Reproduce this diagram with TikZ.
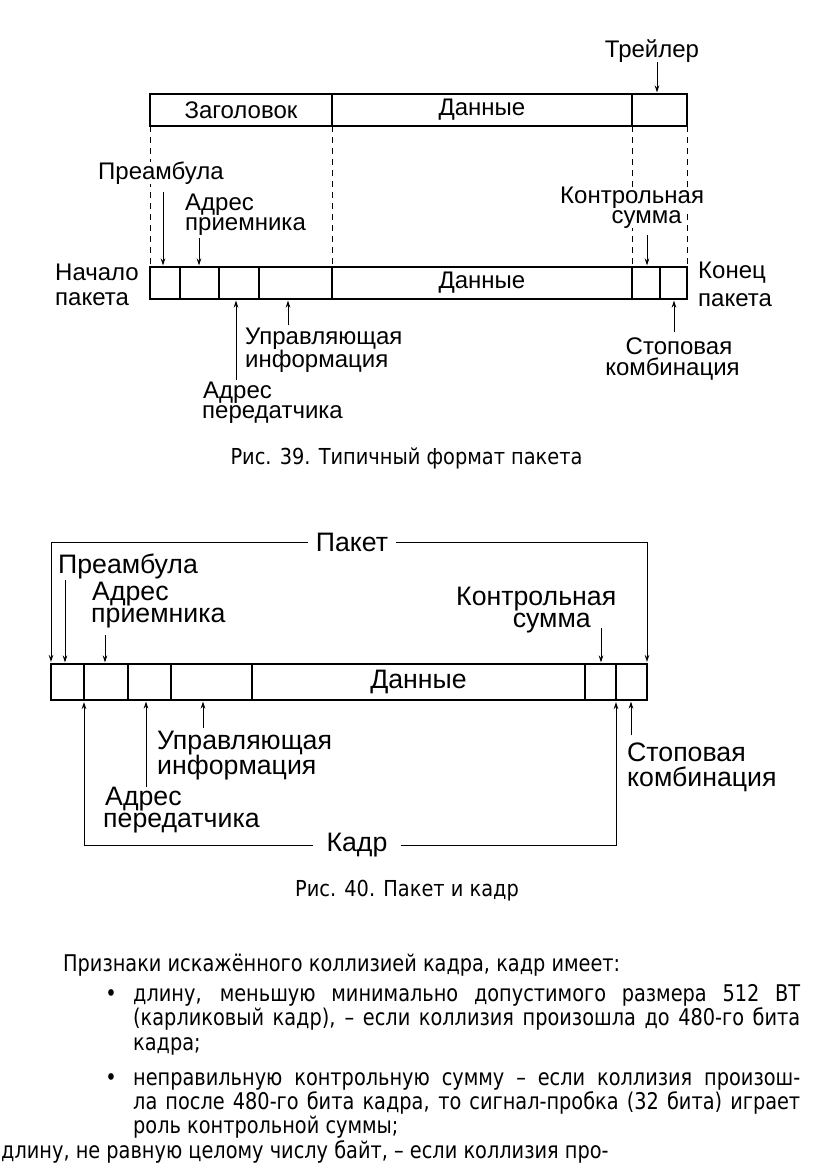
\documentclass[tikz,border=0pt]{standalone}
\usepackage{fontspec}
\setmainfont{Liberation Sans}
\newfontfamily\tahfont[FakeStretch=0.88]{DejaVu Sans}
\newfontfamily\bodyface[FakeStretch=0.84]{DejaVu Sans}
\usetikzlibrary{arrows.meta}
\newcommand\figAfont{\fontsize{24}{26}\selectfont}
\newcommand\figBfont{\fontsize{26.7}{28}\selectfont}
\newcommand\capfont{\tahfont\fontsize{22}{24}\selectfont}
\newcommand\bodyfont{\bodyface\fontsize{23}{25}\selectfont}
\begin{document}
\begin{tikzpicture}[x=1pt,y=-1pt,
  cell/.style={draw, line width=1.6pt, inner sep=0pt, outer sep=0pt, anchor=north west},
  lblA/.style={inner sep=0pt, font=\figAfont},
  lblB/.style={inner sep=0pt, font=\figBfont},
  mask/.style={fill=white},
  arr/.style={line width=0.9pt, -{Stealth[length=7pt,width=4.5pt]}, shorten >=1.5pt},
  brk/.style={line width=1pt, -{Stealth[length=7pt,width=4.5pt]}, shorten >=2pt},
  dsh/.style={line width=0.9pt, dash pattern=on 6pt off 5pt},
  captext/.style={inner sep=0pt, font=\capfont},
  body/.style={inner sep=0pt, font=\bodyfont, anchor=base west}]
\fill[white] (0,0) rectangle (816,1163);
\useasboundingbox (0,0) rectangle (816,1163);

% ---------- Fig. 39 ----------
\node[cell, minimum width=182pt, minimum height=32pt, font=\figAfont] (hdr) at (150,94) {Заголовок};
\node[cell, minimum width=300pt, minimum height=32pt, font=\figAfont] (dat) at (332,94) {Данные};
\node[cell, minimum width=55pt, minimum height=32pt] (trl) at (632,94) {};

\node[cell, minimum width=30pt, minimum height=32pt] (c1) at (150,267) {};
\node[cell, minimum width=39pt, minimum height=32pt] (c2) at (180,267) {};
\node[cell, minimum width=40pt, minimum height=32pt] (c3) at (219,267) {};
\node[cell, minimum width=73pt, minimum height=32pt] (c4) at (259,267) {};
\node[cell, minimum width=300pt, minimum height=32pt, font=\figAfont] (c5) at (332,267) {Данные};
\node[cell, minimum width=28pt, minimum height=32pt] (c6) at (632,267) {};
\node[cell, minimum width=27pt, minimum height=32pt] (c7) at (660,267) {};

\draw[dsh] (hdr.south west) -- (c1.north west);
\draw[dsh] (hdr.south east) -- (c4.north east);
\draw[dsh] (trl.south west) -- (c6.north west);
\draw[dsh] (trl.south east) -- (c7.north east);

\node[lblA] (trlL) at (652,51) {Трейлер};
\node[lblA, mask, anchor=west] (preL) at (98,173) {Преамбула};
\node[lblA, anchor=west] (rcv1) at (185,205) {Адрес};
\node[lblA, anchor=west] (rcv2) at (185,226.7) {приемника};
\node[lblA, anchor=west] (beg1) at (55,272.5) {Начало};
\node[lblA, anchor=west] (beg2) at (55,299) {пакета};
\node[lblA, anchor=west] (ctl1) at (245,339) {Управляющая};
\node[lblA, anchor=west] (ctl2) at (245,361) {информация};
\node[lblA, anchor=west] (snd1) at (203,393) {Адрес};
\node[lblA, anchor=west] (snd2) at (202,415) {передатчика};
\node[lblA, mask, anchor=west] (crc1) at (560,198) {Контрольная};
\node[lblA, mask, anchor=east] (crc2) at (682,219.5) {сумма};
\node[lblA, anchor=west] (end1) at (698,272.5) {Конец};
\node[lblA, anchor=west] (end2) at (698,300) {пакета};
\node[lblA] (stp1) at (679,346) {Стоповая};
\node[lblA] (stp2) at (672.5,369) {комбинация};

\coordinate (t1) at (657,62);
\coordinate (t2) at (163,192);
\coordinate (t3) at (199,238);
\coordinate (t4) at (236,380);
\coordinate (t5) at (288,325);
\coordinate (t6) at (647,235);
\coordinate (t7) at (674,332);
\draw[arr] (t1) -- (t1 |- trl.north);
\draw[arr] (t2) -- (t2 |- c1.north);
\draw[arr] (t3) -- (t3 |- c2.north);
\draw[arr] (t4) -- (t4 |- c3.south);
\draw[arr] (t5) -- (t5 |- c4.south);
\draw[arr] (t6) -- (t6 |- c6.north);
\draw[arr] (t7) -- (t7 |- c7.south);

\node[captext] (cap39) at (406.5,458) {Рис. 39. Типичный формат пакета};

% ---------- Fig. 40 ----------
\node[cell, minimum width=33pt, minimum height=36pt] (d1) at (51,664) {};
\node[cell, minimum width=44pt, minimum height=36pt] (d2) at (84,664) {};
\node[cell, minimum width=43pt, minimum height=36pt] (d3) at (128,664) {};
\node[cell, minimum width=81pt, minimum height=36pt] (d4) at (171,664) {};
\node[cell, minimum width=333pt, minimum height=36pt, font=\figBfont] (d5) at (252,664) {Данные};
\node[cell, minimum width=31pt, minimum height=36pt] (d6) at (585,664) {};
\node[cell, minimum width=31pt, minimum height=36pt] (d7) at (616,664) {};

\node[lblB, inner xsep=8pt] (pak) at (352,542) {Пакет};
\node[lblB, inner xsep=13pt] (kadr) at (357,845) {Кадр};
\draw[brk] (pak.west) -| (d1.north west);
\draw[brk] (pak.east) -| (d7.north east);
\draw[brk] (kadr.west) -| (d2.south west);
\draw[brk] (kadr.east) -| (d7.south west);

\node[lblB, anchor=west] (pre) at (58,566.7) {Преамбула};
\node[lblB, anchor=west] (r1) at (92,594) {Адрес};
\node[lblB, anchor=west] (r2) at (91,618) {приемника};
\node[lblB, anchor=west] (k1) at (456,599) {Контрольная};
\node[lblB, anchor=east] (k2) at (591,623.5) {сумма};
\node[lblB, anchor=west] (u1) at (157,743.3) {Управляющая};
\node[lblB, anchor=west] (u2) at (157,767.5) {информация};
\node[lblB, anchor=west] (s1) at (105,799) {Адрес};
\node[lblB, anchor=west] (s2) at (103,823) {передатчика};
\node[lblB, anchor=west] (st1) at (627,752.5) {Стоповая};
\node[lblB, anchor=west] (st2) at (627,779) {комбинация};

\coordinate (e1) at (65,580);
\coordinate (e2) at (105,635);
\coordinate (e3) at (601,628);
\coordinate (e4) at (146,787);
\coordinate (e5) at (203,728);
\coordinate (e6) at (631,735);
\draw[arr] (e1) -- (e1 |- d1.north);
\draw[arr] (e2) -- (e2 |- d2.north);
\draw[arr] (e3) -- (e3 |- d6.north);
\draw[arr] (e4) -- (e4 |- d3.south);
\draw[arr] (e5) -- (e5 |- d4.south);
\draw[arr] (e6) -- (e6 |- d7.south);

\node[captext] (cap40) at (407,891) {Рис. 40. Пакет и кадр};

% ---------- Text ----------
\node[body] (p0) at (63,971) {Признаки искажённого коллизией кадра, кадр имеет:};
\node[body, anchor=base] (b1) at (111,1001) {•};
\node[body] (p1) at (133,1001) {\makebox[667pt][s]{длину, меньшую минимально допустимого размера 512 ВТ}};
\node[body] (p2) at (133,1025) {\makebox[667pt][s]{(карликовый кадр), – если коллизия произошла до 480-го бита}};
\node[body] (p3) at (133,1050) {кадра;};
\node[body, anchor=base] (b2) at (111,1085) {•};
\node[body] (p4) at (133,1085) {\makebox[667pt][s]{неправильную контрольную сумму – если коллизия произош-}};
\node[body] (p5) at (133,1109) {\makebox[667pt][s]{ла после 480-го бита кадра, то сигнал-пробка (32 бита) играет}};
\node[body] (p6) at (133,1133) {роль контрольной суммы;};
\node[body] (p7) at (1,1158) {длину, не равную целому числу байт, – если коллизия про-};
\end{tikzpicture}
\end{document}
